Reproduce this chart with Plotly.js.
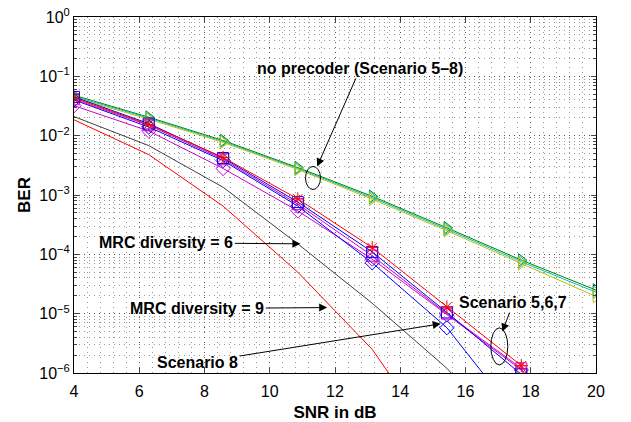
<!DOCTYPE html>
<html>
<head>
<meta charset="utf-8">
<script src="https://cdn.plot.ly/plotly-3.0.1.min.js"></script>
<style>html,body{margin:0;padding:0;background:#fff;}#chart{width:631px;height:422px;}</style>
</head>
<body>
<div id="chart"></div>
<script>
// SNR points (dB)
const snr = [4, 6.29, 8.57, 10.86, 13.14, 15.43, 17.71, 20];

// No precoder (Scenario 5-8)
const noPrecGreen = [0.048, 0.0205, 0.0083, 0.0029, 9.5e-4, 2.8e-4, 8.0e-5, 2.5e-5];
const noPrecCyan  = [0.046, 0.0198, 0.0080, 0.0028, 9.0e-4, 2.65e-4, 7.5e-5, 2.3e-5];
const noPrecOlive = [0.044, 0.0190, 0.0077, 0.0027, 8.5e-4, 2.5e-4, 7.0e-5, 1.95e-5];

// Precoded scenarios
const precRedStar      = [0.043, 0.0155, 0.0043, 8.6e-4, 1.3e-4, 1.3e-5, 1.33e-6, 1.5e-8];
const precBlueSquare   = [0.045, 0.0160, 0.0042, 7.6e-4, 1.1e-4, 1.05e-5, 0.95e-6, 1.0e-8];
const precMagSquare    = [0.041, 0.0150, 0.0040, 7.0e-4, 9.5e-5, 1.0e-5, 1.2e-6, 1.2e-8];
const precBlueDiamond  = [0.040, 0.0140, 0.0038, 6.5e-4, 7.2e-5, 5.8e-6, 1.5e-7, 3e-9];
const precMagDiamond   = [0.032, 0.0120, 0.0028, 5.4e-4, 8.3e-5, 9.5e-6, 1.13e-6, 1.1e-8];

// MRC reference curves
const mrc6 = [0.021, 0.0068, 0.00135, 1.5e-4, 1.5e-5, 1.2e-6, 5e-8, 1e-9];
const mrc9 = [0.0185, 0.0048, 6.5e-4, 5e-5, 2.5e-6, 4e-8, 1e-10, 1e-12];

// Tick labels
const xTicks = [4, 6, 8, 10, 12, 14, 16, 18, 20];
const yTickVals = [1e-6, 1e-5, 1e-4, 1e-3, 1e-2, 1e-1, 1];
const yTickText = ['10<sup>−6</sup>', '10<sup>−5</sup>', '10<sup>−4</sup>', '10<sup>−3</sup>', '10<sup>−2</sup>', '10<sup>−1</sup>', '10<sup>0</sup>'];

function mk(y, color, symbol) {
  const t = {x: snr, y: y, type: 'scatter', mode: symbol ? 'lines+markers' : 'lines',
    line: {color: color, width: 1}, showlegend: false, cliponaxis: true};
  if (symbol) t.marker = {symbol: symbol, size: 11, color: color, line: {color: color, width: 1}};
  return t;
}

const data = [
  mk(mrc6, '#404040', null),
  mk(mrc9, '#ff0000', null),
  mk(noPrecGreen, '#008000', 'triangle-right-open'),
  mk(noPrecCyan, '#00bfbf', 'triangle-right-open'),
  mk(noPrecOlive, '#bfbf00', 'triangle-right-open'),
  mk(precMagDiamond, '#cc00cc', 'diamond-open'),
  mk(precBlueDiamond, '#0000ff', 'diamond-open'),
  mk(precMagSquare, '#cc00cc', 'square-open'),
  mk(precBlueSquare, '#0000ff', 'square-open'),
  mk(precRedStar, '#ff0000', 'asterisk-open')
];

const annFont = {family: 'Liberation Sans, Arial, sans-serif', size: 16, color: '#000'};
function ann(text, x, ylog, ax, ay) {
  return {text: '<b>' + text + '</b>', x: x, y: ylog, xref: 'x', yref: 'y', ax: ax, ay: ay,
    showarrow: true, arrowhead: 2, arrowsize: 1.6, arrowwidth: 1, arrowcolor: '#000',
    font: annFont, bgcolor: 'rgba(0,0,0,0)'};
}

const layout = {
  width: 631, height: 422,
  margin: {l: 74, r: 35, t: 17, b: 49},
  paper_bgcolor: '#fff', plot_bgcolor: '#fff',
  font: {family: 'Liberation Sans, Arial, sans-serif', size: 16, color: '#000'},
  xaxis: {
    range: [4, 20], tickvals: xTicks, ticks: 'inside', ticklen: 5, mirror: 'allticks',
    showline: true, linecolor: '#000', linewidth: 1,
    showgrid: true, gridcolor: '#555', griddash: '1px,4px', gridwidth: 1, zeroline: false,
    minor: {dtick: 0.4, showgrid: true, gridcolor: '#999', griddash: '1px,4px', ticks: ''},
    title: {text: '<b>SNR in dB</b>', font: {size: 17}, standoff: 6},
    tickfont: {size: 16}, ticklabelstandoff: 4
  },
  yaxis: {
    type: 'log', range: [-6, 0], tickvals: yTickVals, ticktext: yTickText,
    ticks: 'inside', ticklen: 5, mirror: 'allticks',
    showline: true, linecolor: '#000', linewidth: 1,
    showgrid: true, gridcolor: '#555', griddash: '1px,4px', gridwidth: 1, zeroline: false,
    minor: {dtick: 'D1', showgrid: true, gridcolor: '#999', griddash: '1px,4px', ticks: 'inside', ticklen: 3},
    title: {text: '<b>BER</b>', font: {size: 17}, standoff: 4},
    tickfont: {size: 16}
  },
  annotations: [
    ann('no precoder (Scenario 5–8)', 11.454, -2.519, 43, -98),
    ann('MRC diversity = 6', 10.94, -3.823, -134, -1),
    ann('MRC diversity = 9', 11.76, -4.897, -130, 1),
    ann('Scenario 8', 15.24, -5.17, -243, 39),
    ann('Scenario 5,6,7', 17.13, -5.302, 11, -29)
  ],
  shapes: [
    {type: 'circle', xref: 'paper', yref: 'paper', x0: 0.4435, x1: 0.4722, y0: 0.5155, y1: 0.5801,
      line: {color: '#000', width: 1}},
    {type: 'circle', xref: 'paper', yref: 'paper', x0: 0.7985, x1: 0.8310, y0: 0.0227, y1: 0.1267,
      line: {color: '#000', width: 1}}
  ]
};

Plotly.newPlot('chart', data, layout, {staticPlot: true, displayModeBar: false});
</script>
</body>
</html>
